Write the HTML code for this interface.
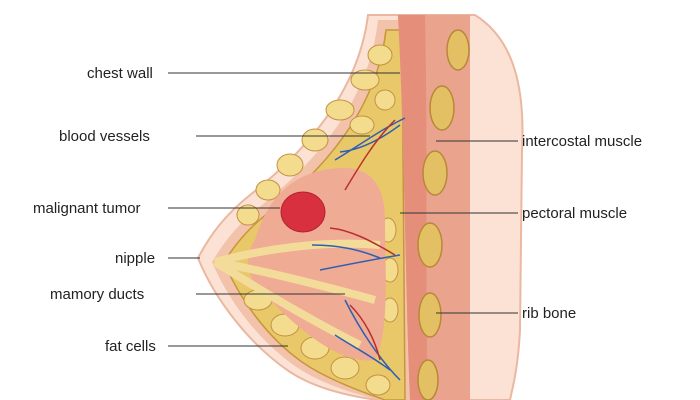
<!DOCTYPE html>
<html><head><meta charset="utf-8"><style>
body{margin:0;background:#fff;}
svg{display:block}
text{font-family:"Liberation Sans",sans-serif;font-size:15px;fill:#222}
</style></head><body>
<svg width="700" height="400" viewBox="0 0 700 400">
<!-- outer skin -->
<path d="M368,15 L475,15 C515,40 525,90 522,150 L520,330 C518,370 512,390 510,400 L378,400 C340,395 310,385 290,372 C250,345 215,300 198,258 C210,235 225,215 250,195 C320,140 360,80 368,15 Z" fill="#fbe2d5" stroke="#eab8a0" stroke-width="2"/>
<!-- inner skin layer -->
<path d="M378,20 L402,20 L420,400 L380,400 C345,392 315,380 295,366 C258,340 228,300 212,262 C225,240 240,222 262,205 C330,150 370,90 378,20 Z" fill="#f3c2ab"/>
<!-- fat region -->
<path d="M386,30 L402,30 L405,400 L385,400 C350,388 322,376 302,362 C268,338 240,300 224,262 C238,240 252,225 272,210 C335,160 378,100 386,30 Z" fill="#e9c86a" stroke="#c7963c" stroke-width="1.5"/>
<g fill="#f3dc8e" stroke="#c39240" stroke-width="1">
<ellipse cx="380" cy="55" rx="12" ry="10"/><ellipse cx="365" cy="80" rx="14" ry="10"/><ellipse cx="385" cy="100" rx="10" ry="10"/>
<ellipse cx="340" cy="110" rx="14" ry="10"/><ellipse cx="315" cy="140" rx="13" ry="11"/><ellipse cx="290" cy="165" rx="13" ry="11"/>
<ellipse cx="268" cy="190" rx="12" ry="10"/><ellipse cx="248" cy="215" rx="11" ry="10"/><ellipse cx="362" cy="125" rx="12" ry="9"/>
<ellipse cx="258" cy="300" rx="14" ry="10"/><ellipse cx="285" cy="325" rx="14" ry="11"/><ellipse cx="315" cy="348" rx="14" ry="11"/>
<ellipse cx="345" cy="368" rx="14" ry="11"/><ellipse cx="378" cy="385" rx="12" ry="10"/><ellipse cx="388" cy="230" rx="8" ry="12"/><ellipse cx="390" cy="270" rx="8" ry="12"/><ellipse cx="390" cy="310" rx="8" ry="12"/>
</g>
<!-- glandular -->
<path d="M255,240 C270,190 300,170 340,168 C370,166 385,185 385,220 C385,270 390,330 375,360 C340,365 300,330 270,300 C250,285 240,262 255,240 Z" fill="#efab94"/>
<path d="M215,262 C260,250 320,240 380,245 M215,262 C260,270 320,285 375,300 M215,262 C260,290 310,320 360,345" stroke="#f3dc9a" stroke-width="8" fill="none"/>
<ellipse cx="303" cy="212" rx="22" ry="20" fill="#d8303e" stroke="#b3222e"/>
<!-- muscle band -->
<path d="M398,15 L470,15 C470,120 470,250 470,400 L410,400 C405,280 405,150 398,15 Z" fill="#eaa48e"/>
<path d="M398,15 L425,15 C428,150 425,280 428,400 L410,400 C405,280 405,150 398,15 Z" fill="#e58f7b"/>
<g fill="#e3c064" stroke="#b88838" stroke-width="1.5">
<ellipse cx="458" cy="50" rx="11" ry="20"/><ellipse cx="442" cy="108" rx="12" ry="22"/><ellipse cx="435" cy="173" rx="12" ry="22"/>
<ellipse cx="430" cy="245" rx="12" ry="22"/><ellipse cx="430" cy="315" rx="11" ry="22"/><ellipse cx="428" cy="380" rx="10" ry="20"/>
</g>
<g fill="none" stroke-width="1.5">
<path d="M405,118 C380,130 360,145 335,160 M400,125 C380,140 360,150 340,152" stroke="#2f5fb0"/>
<path d="M395,120 C375,140 360,165 345,190" stroke="#b8302c"/>
<path d="M400,255 C370,260 345,265 320,270 M380,258 C360,250 340,245 312,245" stroke="#2f5fb0"/>
<path d="M395,255 C370,240 350,230 330,228" stroke="#b8302c"/>
<path d="M400,380 C380,360 360,330 345,300 M390,370 C370,355 350,345 335,335" stroke="#2f5fb0"/>
<path d="M380,360 C375,340 365,320 350,305" stroke="#b8302c"/>
</g>
<g stroke="#333" stroke-width="1">
<line x1="168" y1="73" x2="400" y2="73"/>
<line x1="196" y1="136" x2="370" y2="136"/>
<line x1="168" y1="208" x2="280" y2="208"/>
<line x1="168" y1="258" x2="200" y2="258"/>
<line x1="196" y1="294" x2="345" y2="294"/>
<line x1="168" y1="346" x2="288" y2="346"/>
<line x1="436" y1="141" x2="518" y2="141"/>
<line x1="400" y1="213" x2="518" y2="213"/>
<line x1="436" y1="313" x2="518" y2="313"/>
</g>
<text x="87" y="78">chest wall</text>
<text x="59" y="141">blood vessels</text>
<text x="33" y="213">malignant tumor</text>
<text x="115" y="263">nipple</text>
<text x="50" y="299">mamory ducts</text>
<text x="105" y="351">fat cells</text>
<text x="522" y="146">intercostal muscle</text>
<text x="522" y="218">pectoral muscle</text>
<text x="522" y="318">rib bone</text>
</svg>
</body></html>
